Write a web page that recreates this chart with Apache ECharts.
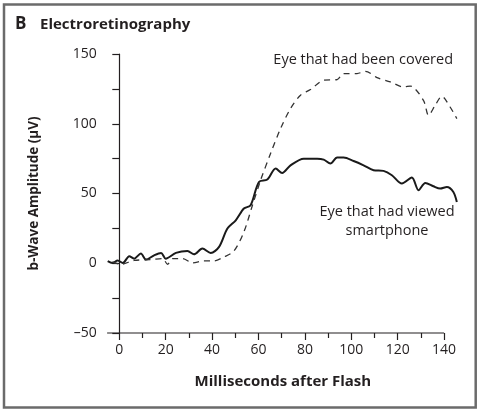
<!DOCTYPE html>
<html>
<head>
<meta charset="utf-8">
<script src="https://cdn.jsdelivr.net/npm/echarts@6/dist/echarts.min.js"></script>
<style>
  html, body { margin: 0; padding: 0; background: #fff; }
  #chart { width: 483px; height: 413px; }
</style>
</head>
<body>
<div id="chart"></div>
<script>
// Eye that had viewed smartphone (solid line)
var msPhone  = [-5, -3, -0.7, 1.5, 4.3, 6.4, 9.3, 11.5, 15, 18, 20, 24.4, 29.4, 32.2, 35.8, 39.4, 43, 46.6, 50.2, 53.7, 56.6, 60.2, 63.8, 67.4, 70.2, 73.8, 79.5, 85.3, 88.1, 91, 93.9, 96.7, 101, 105.3, 109.6, 113.9, 117.5, 121.8, 126.1, 129, 131.9, 135.4, 138.3, 141.2, 144, 145.5];
var ampPhone = [1.6, 0.2, 2, 0.2, 5, 3.3, 7, 2.6, 5.7, 7.4, 3.3, 7.4, 8.8, 6.4, 10.5, 7.4, 11.7, 24.9, 30.8, 39.2, 41.6, 58.3, 60, 67.9, 64.7, 70.2, 75, 75, 74.3, 71.5, 75.8, 75.8, 73.3, 70.2, 66.7, 66.2, 63.1, 57.1, 61.4, 52.3, 57.6, 55.2, 53.5, 54.7, 51.1, 43.9];

// Eye that had been covered (dashed line)
var msCovered  = [-3, 0.7, 6.4, 13.6, 18.7, 20.8, 23, 27.3, 31.6, 36.5, 40.8, 45.1, 49.4, 53.7, 57.4, 60.9, 65.2, 69.5, 73.8, 78.1, 82.4, 88.1, 93.9, 96.7, 102.5, 106.1, 111.1, 116.8, 122.5, 125.4, 131.1, 133.3, 136.2, 139, 142.6, 145.5];
var ampCovered = [1, -0.7, 2, 2.6, 3.3, -0.7, 3.3, 3.3, 0.2, 1.7, 1.7, 4.5, 8.8, 22.4, 41.6, 59.5, 78.6, 96.5, 110.9, 120.4, 124.5, 131.2, 131.7, 136, 136, 137.6, 133.1, 130, 126.4, 127, 116.8, 106.1, 113.3, 119.7, 112, 103.7];

var xMajorTicks = [0, 20, 40, 60, 80, 100, 120, 140];
var xMinorTicks = [10, 30, 50, 70, 90, 110, 130];

function pairs(xs, ys) {
  return xs.map(function (x, i) { return [x, ys[i]]; });
}

var FONT = '"Open Sans", "Noto Sans", sans-serif';
var INK = '#231f20';

// plot box; x runs to 146 so the traces fit, but the axis line stops at 140
var W = 483, H = 413;
var GRID = { left: 107.7, top: 54, right: 25, bottom: 80 };
var X_MIN = -5, X_MAX = 146, X_LINE_END = 140;
var axisY = H - GRID.bottom;
var axisX1 = GRID.left + (X_LINE_END - X_MIN) / (X_MAX - X_MIN) * (W - GRID.left - GRID.right);

var chart = echarts.init(document.getElementById('chart'), null, { renderer: 'canvas' });

chart.setOption({
  animation: false,
  grid: GRID,
  xAxis: [{
    type: 'value',
    min: X_MIN,
    max: X_MAX,
    position: 'bottom',
    name: 'Milliseconds after Flash',
    nameLocation: 'middle',
    nameGap: 41,
    nameTextStyle: { fontFamily: FONT, fontWeight: 'bold', fontSize: 15, color: INK },
    axisLine: { show: false, onZero: false },
    axisTick: { customValues: xMajorTicks, length: 7, lineStyle: { color: INK, width: 1.2 } },
    axisLabel: { customValues: xMajorTicks, margin: 10, fontFamily: FONT, fontSize: 14, color: INK },
    splitLine: { show: false }
  }, {
    type: 'value',
    min: X_MIN,
    max: X_MAX,
    position: 'bottom',
    offset: 0,
    axisLine: { show: false, onZero: false },
    axisTick: { customValues: xMinorTicks, length: 5, lineStyle: { color: INK, width: 1.2 } },
    axisLabel: { show: false },
    splitLine: { show: false }
  }],
  yAxis: {
    type: 'value',
    min: -50,
    max: 150,
    interval: 25,
    name: 'b-Wave Amplitude (\u03bcV)',
    nameLocation: 'middle',
    nameGap: 67,
    nameTextStyle: { fontFamily: FONT, fontWeight: 'bold', fontSize: 13.5, color: INK },
    axisLine: { show: true, lineStyle: { color: INK, width: 1.2 } },
    axisTick: { show: true, length: 7, lineStyle: { color: INK, width: 1.2 } },
    axisLabel: {
      margin: 11,
      fontFamily: FONT,
      fontSize: 14,
      color: INK,
      formatter: function (v) {
        if (v % 50 !== 0) return '';
        return v < 0 ? '\u2013' + Math.abs(v) : String(v);
      }
    },
    splitLine: { show: false }
  },
  series: [{
    name: 'Eye that had viewed smartphone',
    type: 'line',
    data: pairs(msPhone, ampPhone),
    showSymbol: false,
    smooth: 0.3,
    clip: false,
    lineStyle: { color: '#1a1a1a', width: 2 }
  }, {
    name: 'Eye that had been covered',
    type: 'line',
    data: pairs(msCovered, ampCovered),
    showSymbol: false,
    smooth: 0.3,
    clip: false,
    lineStyle: { color: '#333', width: 1.3, type: [6, 5] }
  }],
  graphic: [
    { type: 'rect', silent: true, shape: { x: 4, y: 4.5, width: 471.7, height: 403 },
      style: { fill: null, stroke: '#6b6b6b', lineWidth: 2.5 } },
    { type: 'line', silent: true,
      shape: { x1: GRID.left - 0.6, y1: axisY, x2: axisX1, y2: axisY },
      style: { stroke: INK, lineWidth: 1.2 } },
    { type: 'text', left: 15, top: 16,
      style: { text: 'B', fontFamily: FONT, fontWeight: 'bold', fontSize: 17, fill: INK } },
    { type: 'text', left: 40, top: 17,
      style: { text: 'Electroretinography', fontFamily: FONT, fontWeight: 'bold', fontSize: 15, fill: INK } },
    { type: 'text', x: 453, y: 60,
      style: { text: 'Eye that had been covered', align: 'right', verticalAlign: 'middle',
               fontFamily: FONT, fontSize: 14.5, fill: INK } },
    { type: 'text', x: 387, y: 221,
      style: { text: 'Eye that had viewed\nsmartphone', align: 'center', verticalAlign: 'middle',
               lineHeight: 19, fontFamily: FONT, fontSize: 14.5, fill: INK } }
  ]
});
</script>
</body>
</html>
